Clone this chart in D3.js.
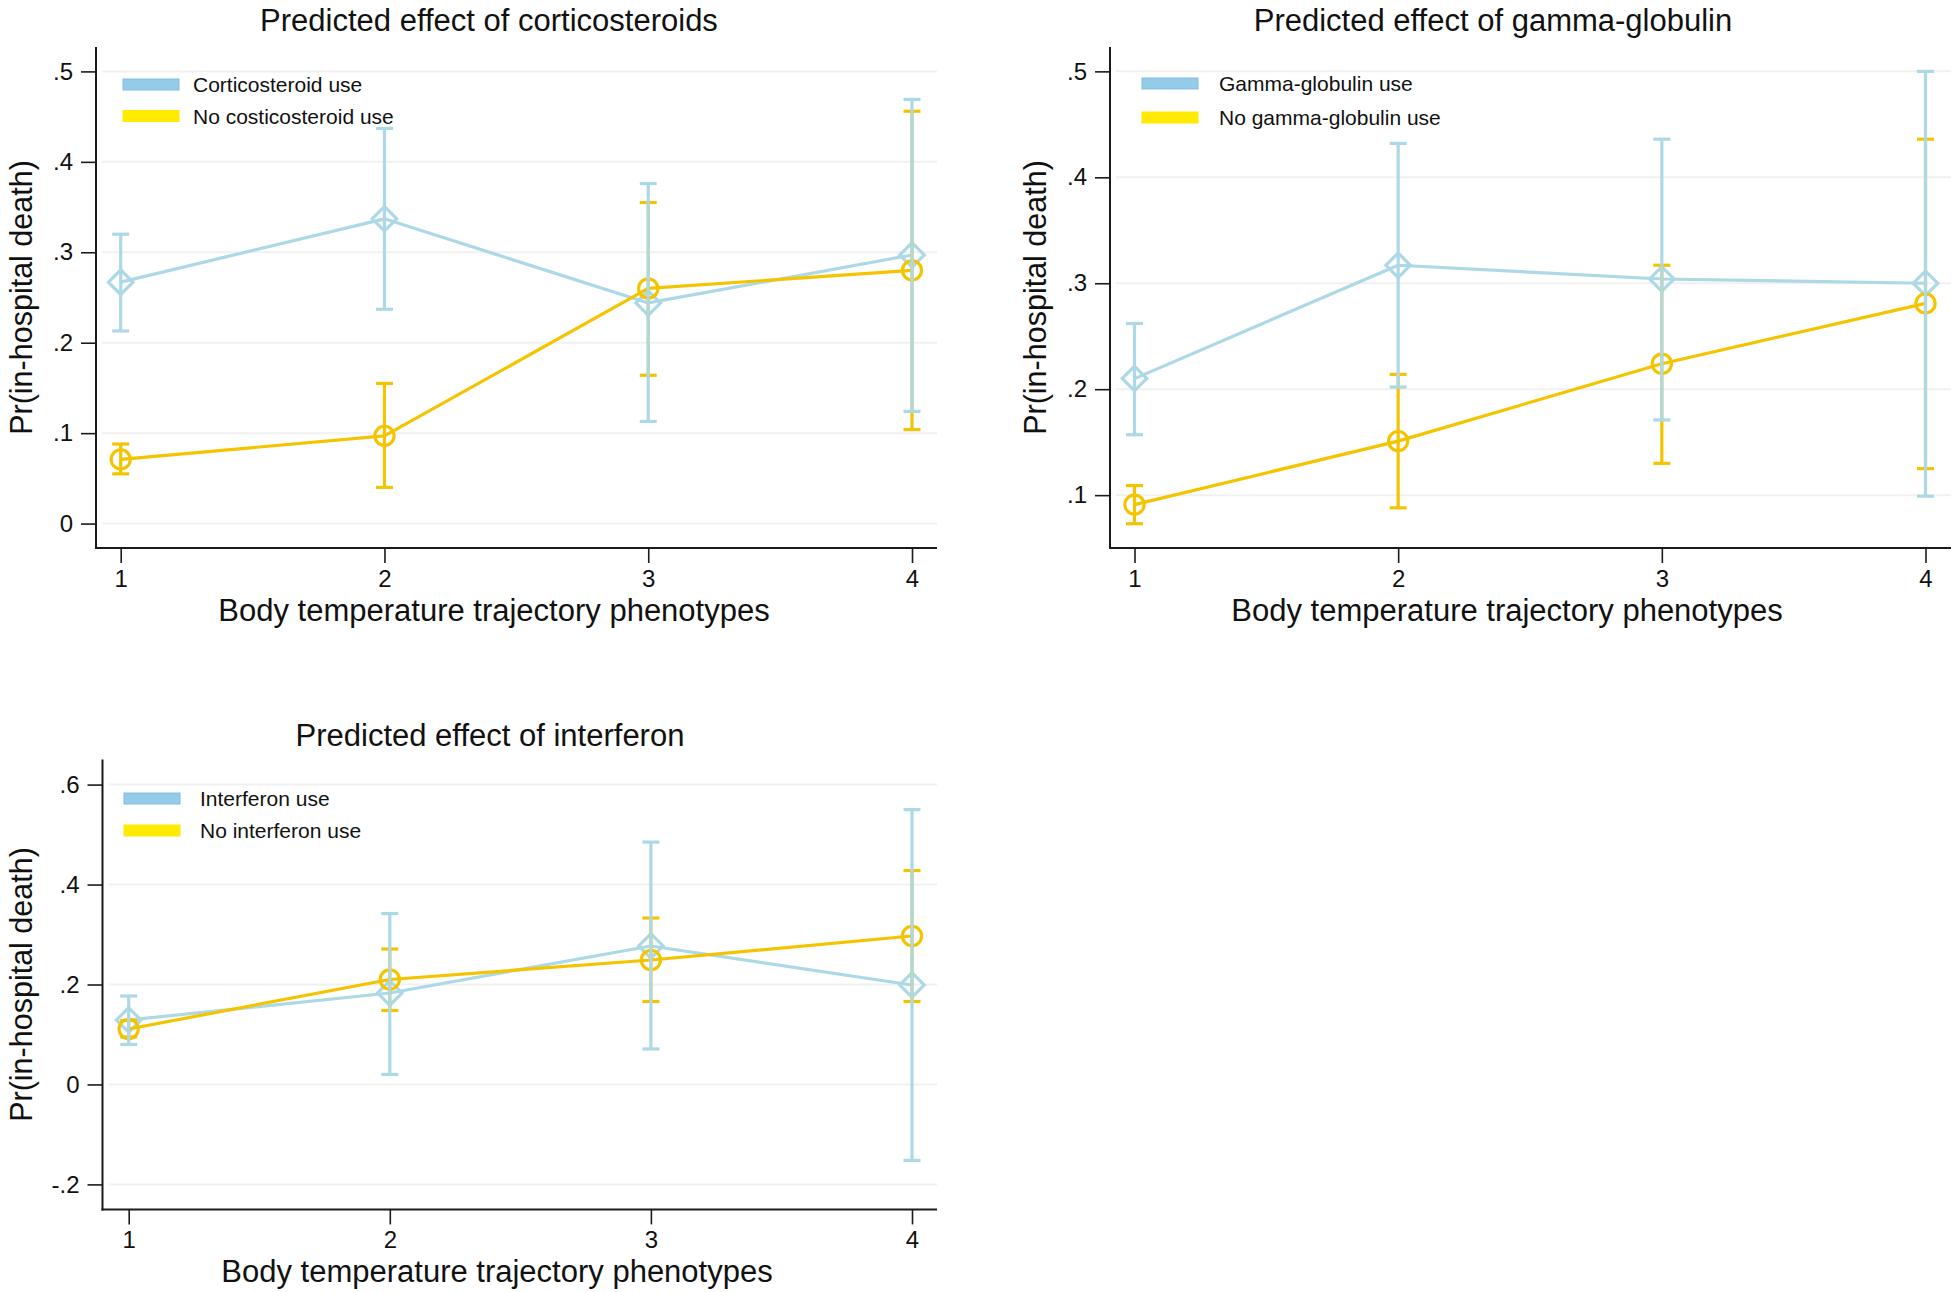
<!DOCTYPE html>
<html>
<head>
<meta charset="utf-8">
<script src="https://cdn.jsdelivr.net/npm/d3@7"></script>
<style>
  html, body { margin: 0; padding: 0; background: #fff; }
  svg { display: block; }
  text { font-family: "Liberation Sans", Arial, sans-serif; fill: #111; }
</style>
</head>
<body>
<svg id="chart" width="1959" height="1292"></svg>
<script>
// ---------- DATA ----------
const phenotypes = [1, 2, 3, 4];
const xAxisTitle = "Body temperature trajectory phenotypes";
const yAxisTitle = "Pr(in-hospital death)";

// Panel 1: corticosteroids
const corticoTitle = "Predicted effect of corticosteroids";
const corticoLegend = ["Corticosteroid use", "No costicosteroid use"];
const corticoUse   = [0.267, 0.337, 0.244, 0.297];
const corticoUseLo = [0.213, 0.237, 0.113, 0.124];
const corticoUseHi = [0.320, 0.437, 0.376, 0.469];
const corticoNo    = [0.071, 0.097, 0.260, 0.280];
const corticoNoLo  = [0.055, 0.040, 0.164, 0.104];
const corticoNoHi  = [0.088, 0.155, 0.355, 0.456];
const corticoTicks = [0, 0.1, 0.2, 0.3, 0.4, 0.5];
const corticoTickLabels = ["0", ".1", ".2", ".3", ".4", ".5"];

// Panel 2: gamma-globulin
const gammaTitle = "Predicted effect of gamma-globulin";
const gammaLegend = ["Gamma-globulin use", "No gamma-globulin use"];
const gammaUse   = [0.210, 0.317, 0.304, 0.300];
const gammaUseLo = [0.157, 0.202, 0.171, 0.099];
const gammaUseHi = [0.262, 0.432, 0.436, 0.500];
const gammaNo    = [0.091, 0.151, 0.224, 0.281];
const gammaNoLo  = [0.073, 0.088, 0.130, 0.125];
const gammaNoHi  = [0.109, 0.214, 0.317, 0.436];
const gammaTicks = [0.1, 0.2, 0.3, 0.4, 0.5];
const gammaTickLabels = [".1", ".2", ".3", ".4", ".5"];

// Panel 3: interferon
const interTitle = "Predicted effect of interferon";
const interLegend = ["Interferon use", "No interferon use"];
const interUse   = [0.129, 0.183, 0.277, 0.199];
const interUseLo = [0.080, 0.020, 0.071, -0.152];
const interUseHi = [0.177, 0.342, 0.485, 0.550];
const interNo    = [0.111, 0.210, 0.249, 0.297];
const interNoLo  = [0.095, 0.148, 0.166, 0.166];
const interNoHi  = [0.128, 0.271, 0.333, 0.428];
const interTicks = [-0.2, 0, 0.2, 0.4, 0.6];
const interTickLabels = ["-.2", "0", ".2", ".4", ".6"];

// ---------- STYLE ----------
const BLUE = "#add8e6";
const BLUE_LEG = "#93cbe9";
const YELLOW = "#f5c400";
const YELLOW_LEG = "#ffea00";
const AXIS = "#1b1b1b";
const GRID = "#f1f1f1";

const svg = d3.select("#chart");

const panels = [
  { title: corticoTitle, legend: corticoLegend,
    use: corticoUse, useLo: corticoUseLo, useHi: corticoUseHi,
    no: corticoNo, noLo: corticoNoLo, noHi: corticoNoHi,
    ticks: corticoTicks, tickLabels: corticoTickLabels,
    yDom: [-0.027, 0.527], left: 96, right: 937, top: 47, bottom: 548,
    xFirst: 120.7, xLast: 912, titleX: 489, titleY: 31, yTitleX: 32, xTitleX: 494,
    legX: 123, legY: 79, legGap: 31.5, legTextX: 193 },
  { title: gammaTitle, legend: gammaLegend,
    use: gammaUse, useLo: gammaUseLo, useHi: gammaUseHi,
    no: gammaNo, noLo: gammaNoLo, noHi: gammaNoHi,
    ticks: gammaTicks, tickLabels: gammaTickLabels,
    yDom: [0.0501, 0.523], left: 1110, right: 1951, top: 47, bottom: 548,
    xFirst: 1134.5, xLast: 1925.5, titleX: 1493, titleY: 31, yTitleX: 1046, xTitleX: 1507,
    legX: 1142, legY: 78, legGap: 34, legTextX: 1219 },
  { title: interTitle, legend: interLegend,
    use: interUse, useLo: interUseLo, useHi: interUseHi,
    no: interNo, noLo: interNoLo, noHi: interNoHi,
    ticks: interTicks, tickLabels: interTickLabels,
    yDom: [-0.25, 0.65], left: 102.5, right: 937, top: 759.6, bottom: 1209.4,
    xFirst: 128.7, xLast: 912, titleX: 490, titleY: 746, yTitleX: 32, xTitleX: 497,
    legX: 124, legY: 793, legGap: 32, legTextX: 200 }
];

panels.forEach(p => {
  const g = svg.append("g");
  const x = d3.scaleLinear().domain([1, 4]).range([p.xFirst, p.xLast]);
  const y = d3.scaleLinear().domain(p.yDom).range([p.bottom, p.top]);

  // gridlines
  g.selectAll(".grid").data(p.ticks).enter().append("line")
    .attr("x1", p.left + 6).attr("x2", p.right)
    .attr("y1", d => y(d)).attr("y2", d => y(d))
    .attr("stroke", GRID).attr("stroke-width", 2);

  // y axis
  const yAxis = d3.axisLeft(y).tickValues(p.ticks)
    .tickFormat((d, i) => p.tickLabels[i]).tickSize(15).tickPadding(8);
  const ya = g.append("g").attr("transform", `translate(${p.left},0)`).call(yAxis);
  ya.select(".domain").remove();
  ya.append("line").attr("x1", 0).attr("x2", 0).attr("y1", p.top).attr("y2", p.bottom + 1)
    .attr("stroke", AXIS).attr("stroke-width", 2);
  ya.selectAll(".tick line").attr("stroke", AXIS).attr("stroke-width", 1.6);
  ya.selectAll(".tick text").attr("font-size", 24).attr("fill", "#111")
    .attr("font-family", "Liberation Sans, Arial, sans-serif");

  // x axis
  const xAxis = d3.axisBottom(x).tickValues(phenotypes).tickFormat(d3.format("d"))
    .tickSize(15).tickPadding(7);
  const xa = g.append("g").attr("transform", `translate(0,${p.bottom})`).call(xAxis);
  xa.select(".domain").remove();
  xa.append("line").attr("x1", p.left - 1).attr("x2", p.right).attr("y1", 0).attr("y2", 0)
    .attr("stroke", AXIS).attr("stroke-width", 2);
  xa.selectAll(".tick line").attr("stroke", AXIS).attr("stroke-width", 1.6);
  xa.selectAll(".tick text").attr("font-size", 24).attr("fill", "#111")
    .attr("font-family", "Liberation Sans, Arial, sans-serif");

  // titles
  g.append("text").attr("x", p.titleX).attr("y", p.titleY)
    .attr("text-anchor", "middle").attr("font-size", 31).text(p.title);
  g.append("text").attr("x", p.xTitleX).attr("y", p.bottom + 73)
    .attr("text-anchor", "middle").attr("font-size", 31).text(xAxisTitle);
  g.append("text")
    .attr("transform", `translate(${p.yTitleX},${(p.top + p.bottom) / 2}) rotate(-90)`)
    .attr("text-anchor", "middle").attr("font-size", 30.5).text(yAxisTitle);

  // legend
  const leg = [
    { fill: BLUE_LEG, stroke: "#82bfe0", label: p.legend[0] },
    { fill: YELLOW_LEG, stroke: YELLOW_LEG, label: p.legend[1] }
  ];
  leg.forEach((l, i) => {
    const yy = p.legY + i * p.legGap;
    g.append("rect").attr("x", p.legX).attr("y", yy).attr("width", 56).attr("height", 11)
      .attr("fill", l.fill).attr("stroke", l.stroke).attr("stroke-width", 1);
    g.append("text").attr("x", p.legTextX).attr("y", yy + 13).attr("font-size", 21).text(l.label);
  });

  const series = [
    { vals: p.use, lo: p.useLo, hi: p.useHi, color: BLUE, marker: "diamond" },
    { vals: p.no, lo: p.noLo, hi: p.noHi, color: YELLOW, marker: "circle" }
  ];
  const line = d3.line().x((d, i) => x(phenotypes[i])).y(d => y(d));

  // lines + markers (blue first then yellow)
  series.forEach(s => {
    g.append("path").datum(s.vals).attr("d", line)
      .attr("fill", "none").attr("stroke", s.color).attr("stroke-width", 3.2)
      .attr("stroke-linejoin", "round");
    const sym = s.marker === "diamond"
      ? d3.symbol().type(d3.symbolSquare).size(300)
      : d3.symbol().type(d3.symbolCircle).size(290);
    g.selectAll(null).data(s.vals).enter().append("path")
      .attr("d", sym)
      .attr("transform", (d, i) => `translate(${x(phenotypes[i])},${y(d)})` + (s.marker === "diamond" ? " rotate(45)" : ""))
      .attr("fill", "none").attr("stroke", s.color).attr("stroke-width", 3.2);
  });

  // confidence intervals (yellow first, blue on top)
  [series[1], series[0]].forEach(s => {
    phenotypes.forEach((ph, i) => {
      const cx = x(ph);
      g.append("line").attr("x1", cx).attr("x2", cx)
        .attr("y1", y(s.lo[i])).attr("y2", y(s.hi[i]))
        .attr("stroke", s.color).attr("stroke-width", 3.2);
      [s.lo[i], s.hi[i]].forEach(v => {
        g.append("line").attr("x1", cx - 8.5).attr("x2", cx + 8.5)
          .attr("y1", y(v)).attr("y2", y(v))
          .attr("stroke", s.color).attr("stroke-width", 3.2);
      });
    });
  });
});
</script>
</body>
</html>
